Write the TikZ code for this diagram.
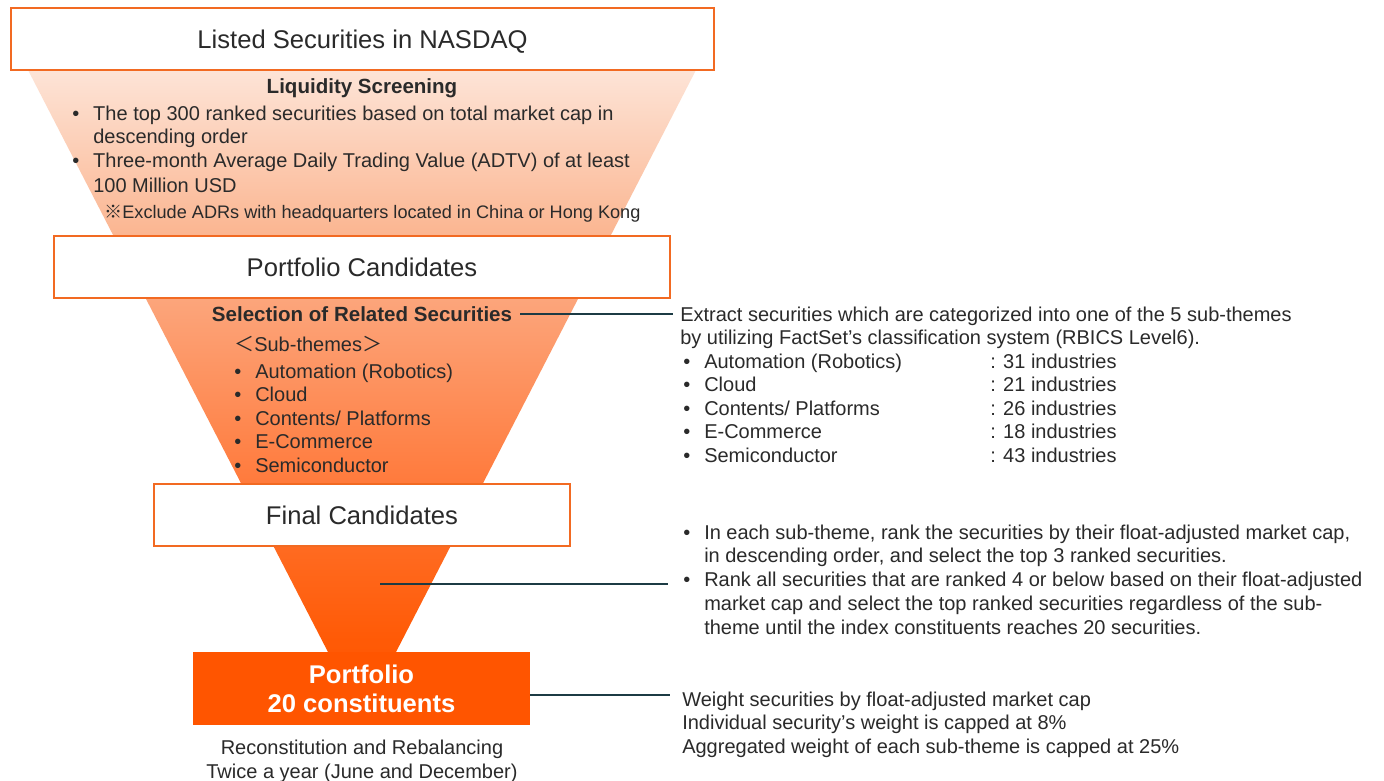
\documentclass[tikz,border=0pt]{standalone}
\usepackage{fontspec}
\setmainfont{Liberation Sans}
\newfontfamily\cjkfont{Noto Sans CJK JP}
\usetikzlibrary{positioning, calc}
\newdimen\pxu
\pxu=0.75pt
\definecolor{edgeO}{HTML}{F26A22}
\definecolor{fillO}{HTML}{FF5500}
\definecolor{ink}{HTML}{2A2A2A}
\definecolor{leader}{HTML}{1C3B44}
\definecolor{fnA}{HTML}{FDE4D7}
\definecolor{fnB}{HTML}{FBB793}
\definecolor{fnC}{HTML}{FCA57B}
\definecolor{fnD}{HTML}{FF7B3D}
\definecolor{fnE}{HTML}{FF6A20}
\definecolor{fnF}{HTML}{FF5A06}
\definecolor{fnG}{HTML}{FF5500}
\pgfdeclareverticalshading{funnel}{100bp}{%
  color(0bp)=(fnG); color(25bp)=(fnG); color(31bp)=(fnF);
  color(38bp)=(fnE); color(43.4bp)=(fnD); color(57.3bp)=(fnC);
  color(62.7bp)=(fnB); color(75bp)=(fnA); color(100bp)=(fnA)}
\newcommand{\bul}{\makebox[21\pxu][l]{\textbullet}}
\newcommand{\hang}{\hspace*{21\pxu}}
\newcommand{\indus}[2]{\bul\makebox[286\pxu][l]{#1}: #2 industries}
\tikzset{
  stage/.style   ={draw=edgeO, fill=white, line width=1.4pt, inner sep=0pt,
                   font=\fontsize{19.2}{23}\selectfont, text=ink},
  goal/.style    ={fill=fillO, inner sep=0pt, align=center, text=white,
                   font=\fontsize{19.2}{21.75}\selectfont\bfseries},
  body/.style    ={inner sep=0pt, align=left, text=ink,
                   font=\fontsize{15}{17.6}\selectfont},
  head/.style    ={inner sep=0pt, text=ink,
                   font=\fontsize{15.4}{18}\selectfont\bfseries},
  note/.style    ={body, anchor=base west},
  leadline/.style={-, leader, line width=1.3pt},
}
\begin{document}
\begin{tikzpicture}[x=\pxu, y=-\pxu]
\useasboundingbox[fill=white] (0,0) rectangle (1384,781);

% --- funnel behind the stages ---
\path[shading=funnel] (28,70) -- (696,70) -- (362,718) -- cycle;

% --- stage boxes ---
\node[stage, minimum width=703\pxu, minimum height=62\pxu, text depth=0pt]
  (listed) at (362.5,39) {Listed Securities in NASDAQ};
\node[stage, minimum width=616\pxu, minimum height=62\pxu]
  (cands) at (362,267) {Portfolio Candidates};
\node[stage, minimum width=416\pxu, minimum height=62\pxu]
  (final) at (362,515) {Final Candidates};
\node[goal, minimum width=337\pxu, minimum height=73\pxu]
  (port) at (361.5,688.5) {Portfolio\\20 constituents};

% --- screening step (multi-line notes sit on their last baseline) ---
\node[head, anchor=base] (liq) at (362,94) {Liquidity Screening};
\node[note, font=\fontsize{15}{18}\selectfont] (liqlist) at (72,192)
  {\bul The top 300 ranked securities based on total market cap in\\
   \hang descending order\\
   \bul Three-month Average Daily Trading Value (ADTV) of at least\\
   \hang 100 Million USD};
\node[note, font=\fontsize{13.6}{16}\selectfont] (excl) at (104,219)
  {{\cjkfont ※}Exclude ADRs with headquarters located in China or Hong Kong};

% --- sub-theme step ---
\node[head, anchor=base, inner xsep=8\pxu] (selrel) at (362,321)
  {Selection of Related Securities};
\node[note] (subs) at (234,472)
  {{\cjkfont ＜}Sub-themes{\cjkfont ＞}\\[3\pxu]
   \bul Automation (Robotics)\\
   \bul Cloud\\
   \bul Contents/ Platforms\\
   \bul E-Commerce\\
   \bul Semiconductor};

% --- notes on the right ---
\node[note, inner xsep=7\pxu] (extr) at (673,462)
  {Extract securities which are categorized into one of the 5 sub-themes\\
   by utilizing FactSet's classification system (RBICS Level6).\\
   \hspace*{3\pxu}\indus{Automation (Robotics)}{31}\\
   \hspace*{3\pxu}\indus{Cloud}{21}\\
   \hspace*{3\pxu}\indus{Contents/ Platforms}{26}\\
   \hspace*{3\pxu}\indus{E-Commerce}{18}\\
   \hspace*{3\pxu}\indus{Semiconductor}{43}};
\node[note, inner xsep=15\pxu, font=\fontsize{15}{17.8}\selectfont]
  (rank) at (668,634)
  {\bul In each sub-theme, rank the securities by their float-adjusted market cap,\\
   \hang in descending order, and select the top 3 ranked securities.\\
   \bul Rank all securities that are ranked 4 or below based on their float-adjusted\\
   \hang market cap and select the top ranked securities regardless of the sub-\\
   \hang theme until the index constituents reaches 20 securities.};
\node[note, inner xsep=12\pxu] (weight) at (670,753)
  {Weight securities by float-adjusted market cap\\
   Individual security's weight is capped at 8\%\\
   Aggregated weight of each sub-theme is capped at 25\%};

% --- schedule under the portfolio ---
\node[body, align=center, anchor=base, font=\fontsize{15}{18}\selectfont]
  (rebal) at (362,778)
  {Reconstitution and Rebalancing\\ Twice a year (June and December)};

% --- leader lines ---
\coordinate (fin) at (380,584);
\draw[leadline] (selrel.east) -- (selrel.east -| extr.west);
\draw[leadline] (fin) -- (fin -| rank.west);
\draw[leadline] ([yshift=-6.5\pxu]port.east) -- ([yshift=-6.5\pxu]port.east -| weight.west);

\end{tikzpicture}
\end{document}
